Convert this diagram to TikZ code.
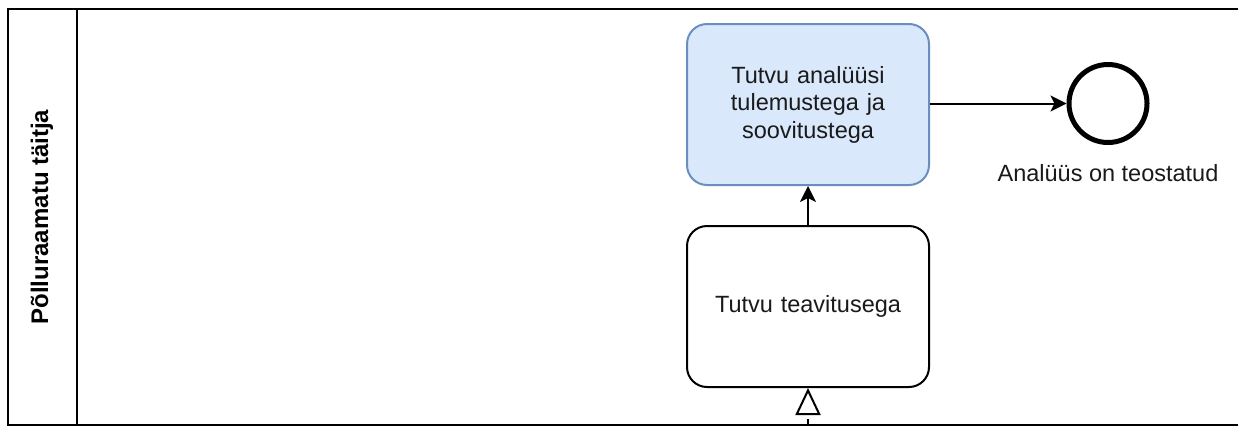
\documentclass[tikz,border=0pt]{standalone}
\usepackage{fontspec}
\setmainfont{Liberation Sans}
\usetikzlibrary{arrows.meta}
\definecolor{taskblue}{HTML}{DAE8FC}
\definecolor{taskedge}{HTML}{6C8EBF}
\definecolor{ink}{HTML}{1A1A1A}
\begin{document}
\begin{tikzpicture}[x=1pt,y=-1pt,
  lane/.style={draw=black, line width=2pt},
  task/.style={draw=black, line width=2pt, rounded corners=20pt,
    minimum width=242pt, minimum height=161pt, inner sep=0pt,
    align=center, text width=200pt, text=ink,
    font=\fontsize{23.5}{27.5}\selectfont},
  endevent/.style={circle, draw=black, line width=5pt, minimum size=78pt, inner sep=0pt},
  label/.style={text=ink, inner sep=0pt, font=\fontsize{23.5}{28}\selectfont},
  flow/.style={line width=2pt, -{Stealth[length=16pt,width=16pt,inset=4pt]}},
  msgflow/.style={line width=2pt, dash pattern=on 6pt off 6pt,
    -{Triangle[open,length=27pt,width=25pt,fill=white]}}
]
\useasboundingbox (0,0) rectangle (1238,429);
\fill[white] (0,0) rectangle (1238,429);

% pool with its single lane header
\draw[lane] (1242,9) -- (8,9) -- (8,425) -- (1242,425);
\draw[lane] (77,9) -- (77,425);
\node[rotate=90, font=\bfseries\fontsize{24}{28}\selectfont, inner sep=0pt] (lanetitle) at (42,217) {Põlluraamatu täitja};

% tasks
\node[task, fill=taskblue, draw=taskedge] (review) at (808,104.5) {Tutvu analüüsi\\tulemustega ja\\soovitustega};
\node[task, fill=white] (notice) at (808,306.5) {Tutvu teavitusega};

% end event
\node[endevent] (done) at (1108,103.5) {};
\node[label] (donelabel) at (1108,173) {Analüüs on teostatud};

% sequence flows
\draw[flow] (notice.north) -- (review.south);
\draw[flow] (review.east |- done.west) -- (done.west);

% incoming message flow from below the pool
\coordinate (msgsrc) at (808,425);
\draw[msgflow] (msgsrc) -- (notice.south);
\end{tikzpicture}
\end{document}
